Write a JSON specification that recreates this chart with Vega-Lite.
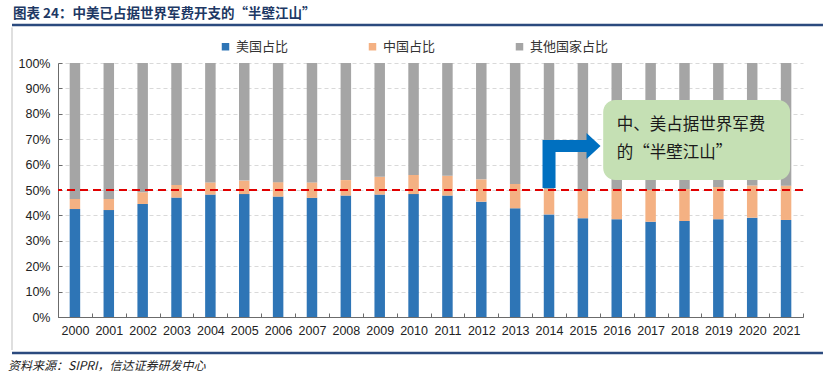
{
  "$schema": "https://vega.github.io/schema/vega-lite/v6.json",
  "width": 745,
  "height": 254,
  "autosize": {"type": "none"},
  "padding": {"left": 58, "top": 63, "right": 32, "bottom": 63},
  "background": "white",
  "config": {"view": {"stroke": null}, "font": "Noto Sans CJK SC"},
  "resolve": {"scale": {"x": "independent"}, "axis": {"y": "independent", "x": "independent"}},
  "layer": [
    {
      "data": {"values": [
        {"year": "2000", "group": "美国占比", "k": 1, "share": 0.425}, {"year": "2000", "group": "中国占比", "k": 2, "share": 0.040}, {"year": "2000", "group": "其他国家占比", "k": 3, "share": 0.535},
        {"year": "2001", "group": "美国占比", "k": 1, "share": 0.421}, {"year": "2001", "group": "中国占比", "k": 2, "share": 0.044}, {"year": "2001", "group": "其他国家占比", "k": 3, "share": 0.535},
        {"year": "2002", "group": "美国占比", "k": 1, "share": 0.445}, {"year": "2002", "group": "中国占比", "k": 2, "share": 0.046}, {"year": "2002", "group": "其他国家占比", "k": 3, "share": 0.509},
        {"year": "2003", "group": "美国占比", "k": 1, "share": 0.470}, {"year": "2003", "group": "中国占比", "k": 2, "share": 0.050}, {"year": "2003", "group": "其他国家占比", "k": 3, "share": 0.480},
        {"year": "2004", "group": "美国占比", "k": 1, "share": 0.482}, {"year": "2004", "group": "中国占比", "k": 2, "share": 0.048}, {"year": "2004", "group": "其他国家占比", "k": 3, "share": 0.470},
        {"year": "2005", "group": "美国占比", "k": 1, "share": 0.484}, {"year": "2005", "group": "中国占比", "k": 2, "share": 0.053}, {"year": "2005", "group": "其他国家占比", "k": 3, "share": 0.463},
        {"year": "2006", "group": "美国占比", "k": 1, "share": 0.474}, {"year": "2006", "group": "中国占比", "k": 2, "share": 0.057}, {"year": "2006", "group": "其他国家占比", "k": 3, "share": 0.469},
        {"year": "2007", "group": "美国占比", "k": 1, "share": 0.469}, {"year": "2007", "group": "中国占比", "k": 2, "share": 0.061}, {"year": "2007", "group": "其他国家占比", "k": 3, "share": 0.470},
        {"year": "2008", "group": "美国占比", "k": 1, "share": 0.478}, {"year": "2008", "group": "中国占比", "k": 2, "share": 0.061}, {"year": "2008", "group": "其他国家占比", "k": 3, "share": 0.461},
        {"year": "2009", "group": "美国占比", "k": 1, "share": 0.482}, {"year": "2009", "group": "中国占比", "k": 2, "share": 0.070}, {"year": "2009", "group": "其他国家占比", "k": 3, "share": 0.448},
        {"year": "2010", "group": "美国占比", "k": 1, "share": 0.484}, {"year": "2010", "group": "中国占比", "k": 2, "share": 0.075}, {"year": "2010", "group": "其他国家占比", "k": 3, "share": 0.441},
        {"year": "2011", "group": "美国占比", "k": 1, "share": 0.478}, {"year": "2011", "group": "中国占比", "k": 2, "share": 0.078}, {"year": "2011", "group": "其他国家占比", "k": 3, "share": 0.444},
        {"year": "2012", "group": "美国占比", "k": 1, "share": 0.454}, {"year": "2012", "group": "中国占比", "k": 2, "share": 0.088}, {"year": "2012", "group": "其他国家占比", "k": 3, "share": 0.458},
        {"year": "2013", "group": "美国占比", "k": 1, "share": 0.428}, {"year": "2013", "group": "中国占比", "k": 2, "share": 0.096}, {"year": "2013", "group": "其他国家占比", "k": 3, "share": 0.476},
        {"year": "2014", "group": "美国占比", "k": 1, "share": 0.404}, {"year": "2014", "group": "中国占比", "k": 2, "share": 0.099}, {"year": "2014", "group": "其他国家占比", "k": 3, "share": 0.497},
        {"year": "2015", "group": "美国占比", "k": 1, "share": 0.389}, {"year": "2015", "group": "中国占比", "k": 2, "share": 0.109}, {"year": "2015", "group": "其他国家占比", "k": 3, "share": 0.502},
        {"year": "2016", "group": "美国占比", "k": 1, "share": 0.385}, {"year": "2016", "group": "中国占比", "k": 2, "share": 0.119}, {"year": "2016", "group": "其他国家占比", "k": 3, "share": 0.496},
        {"year": "2017", "group": "美国占比", "k": 1, "share": 0.375}, {"year": "2017", "group": "中国占比", "k": 2, "share": 0.125}, {"year": "2017", "group": "其他国家占比", "k": 3, "share": 0.500},
        {"year": "2018", "group": "美国占比", "k": 1, "share": 0.378}, {"year": "2018", "group": "中国占比", "k": 2, "share": 0.126}, {"year": "2018", "group": "其他国家占比", "k": 3, "share": 0.496},
        {"year": "2019", "group": "美国占比", "k": 1, "share": 0.385}, {"year": "2019", "group": "中国占比", "k": 2, "share": 0.127}, {"year": "2019", "group": "其他国家占比", "k": 3, "share": 0.488},
        {"year": "2020", "group": "美国占比", "k": 1, "share": 0.391}, {"year": "2020", "group": "中国占比", "k": 2, "share": 0.127}, {"year": "2020", "group": "其他国家占比", "k": 3, "share": 0.482},
        {"year": "2021", "group": "美国占比", "k": 1, "share": 0.382}, {"year": "2021", "group": "中国占比", "k": 2, "share": 0.135}, {"year": "2021", "group": "其他国家占比", "k": 3, "share": 0.483}
      ]},
      "mark": {"type": "bar", "width": {"band": 0.31}},
      "encoding": {
        "x": {
          "field": "year", "type": "ordinal",
          "scale": {"paddingInner": 0, "paddingOuter": 0},
          "axis": {
            "title": null, "labelAngle": 0, "grid": false,
            "tickBand": "extent", "tickSize": -4,
            "domainColor": "#6b6b6b", "tickColor": "#6b6b6b",
            "labelFont": "Liberation Sans", "labelFontSize": 12.5, "labelColor": "#222222",
            "labelPadding": 11
          }
        },
        "y": {
          "field": "share", "type": "quantitative", "stack": "zero",
          "scale": {"domain": [0, 1], "nice": false},
          "axis": {
            "title": null, "format": ".0%",
            "values": [0, 0.1, 0.2, 0.3, 0.4, 0.5, 0.6, 0.7, 0.8, 0.9, 1],
            "labelOverlap": false, "grid": true,
            "tickSize": -4, "domainColor": "#6b6b6b", "tickColor": "#6b6b6b",
            "gridColor": "#d9d9d9", "gridDash": [4, 3],
            "labelFont": "Liberation Sans", "labelFontSize": 12.5, "labelColor": "#222222",
            "labelPadding": 12
          }
        },
        "order": {"field": "k", "type": "quantitative", "sort": "ascending"},
        "color": {
          "field": "group", "type": "nominal",
          "sort": ["美国占比", "中国占比", "其他国家占比"],
          "scale": {"domain": ["美国占比", "中国占比", "其他国家占比"], "range": ["#2e75b6", "#f4b183", "#a5a5a5"]},
          "legend": {
            "orient": "none", "legendX": 161, "legendY": -23, "direction": "horizontal",
            "title": null, "symbolType": "square", "symbolSize": 56, "symbolStrokeWidth": 0,
            "labelFontSize": 13, "labelColor": "#333333", "labelFont": "Noto Sans CJK SC",
            "columnPadding": 77, "labelOffset": 4, "padding": 0
          }
        }
      }
    },
    {
      "data": {"values": [{"label": "50%"}]},
      "layer": [
        {
          "mark": {"type": "rule", "color": "#e00000", "strokeDash": [8, 5], "strokeWidth": 1.8},
          "encoding": {"y": {"datum": 0.5, "type": "quantitative", "scale": {"domain": [0, 1], "nice": false}, "axis": null}}
        },
        {
          "mark": {"type": "rect", "fill": "#c5e0b4", "cornerRadius": 12},
          "encoding": {
            "x": {"datum": 16.1, "type": "quantitative", "scale": {"domain": [0, 22], "nice": false, "zero": false}, "axis": null},
            "x2": {"datum": 21.62},
            "y": {"datum": 0.854, "type": "quantitative", "scale": {"domain": [0, 1], "nice": false}, "axis": null},
            "y2": {"datum": 0.539}
          }
        },
        {
          "mark": {"type": "text", "text": "中、美占据世界军费", "align": "left", "baseline": "middle", "fontSize": 16.5, "color": "#1a1a1a", "font": "Noto Sans CJK SC"},
          "encoding": {
            "x": {"datum": 16.5, "type": "quantitative", "scale": {"domain": [0, 22], "nice": false, "zero": false}, "axis": null},
            "y": {"datum": 0.756, "type": "quantitative", "scale": {"domain": [0, 1], "nice": false}, "axis": null}
          }
        },
        {
          "mark": {"type": "text", "text": "的“半壁江山”", "align": "left", "baseline": "middle", "fontSize": 16.5, "color": "#1a1a1a", "font": "Noto Sans CJK SC"},
          "encoding": {
            "x": {"datum": 16.5, "type": "quantitative", "scale": {"domain": [0, 22], "nice": false, "zero": false}, "axis": null},
            "y": {"datum": 0.646, "type": "quantitative", "scale": {"domain": [0, 1], "nice": false}, "axis": null}
          }
        },
        {
          "mark": {"type": "point", "filled": true, "opacity": 1, "size": 4, "fill": "#0070c0", "strokeWidth": 0,
            "shape": "M-6.5,-2 L-6.5,-50 L37.5,-50 L37.5,-57 L51.5,-44 L37.5,-31 L37.5,-38 L6.5,-38 L6.5,-2 Z"},
          "encoding": {
            "x": {"datum": 14.5, "type": "quantitative", "scale": {"domain": [0, 22], "nice": false, "zero": false}, "axis": null},
            "y": {"datum": 0.5, "type": "quantitative", "scale": {"domain": [0, 1], "nice": false}, "axis": null}
          }
        },
        {
          "mark": {"type": "rule", "color": "#bfbfbf", "strokeWidth": 1},
          "encoding": {
            "x": {"datum": -1.358, "type": "quantitative", "scale": {"domain": [0, 22], "nice": false, "zero": false}, "axis": null},
            "y": {"datum": 1.14, "type": "quantitative", "scale": {"domain": [0, 1], "nice": false}, "axis": null},
            "y2": {"datum": -0.13}
          }
        },
        {
          "mark": {"type": "rule", "color": "#2b4a7e", "strokeWidth": 2.5},
          "encoding": {
            "x": {"datum": -1.358, "type": "quantitative", "scale": {"domain": [0, 22], "nice": false, "zero": false}, "axis": null},
            "x2": {"datum": 22.59},
            "y": {"datum": 1.1496, "type": "quantitative", "scale": {"domain": [0, 1], "nice": false}, "axis": null}
          }
        },
        {
          "mark": {"type": "rule", "color": "#2b4a7e", "strokeWidth": 2.5},
          "encoding": {
            "x": {"datum": -1.358, "type": "quantitative", "scale": {"domain": [0, 22], "nice": false, "zero": false}, "axis": null},
            "x2": {"datum": 22.59},
            "y": {"datum": -0.1417, "type": "quantitative", "scale": {"domain": [0, 1], "nice": false}, "axis": null}
          }
        },
        {
          "mark": {"type": "text", "text": "图表 24：中美已占据世界军费开支的“半壁江山”", "align": "left", "baseline": "middle", "fontSize": 13.5, "fontWeight": "bold", "color": "#203864", "font": "Noto Sans CJK SC"},
          "encoding": {
            "x": {"datum": -1.329, "type": "quantitative", "scale": {"domain": [0, 22], "nice": false, "zero": false}, "axis": null},
            "y": {"datum": 1.193, "type": "quantitative", "scale": {"domain": [0, 1], "nice": false}, "axis": null}
          }
        },
        {
          "mark": {"type": "text", "text": "资料来源：SIPRI，信达证券研发中心", "align": "left", "baseline": "middle", "fontSize": 12, "fontStyle": "italic", "color": "#222222", "font": "Noto Sans CJK SC"},
          "encoding": {
            "x": {"datum": -1.476, "type": "quantitative", "scale": {"domain": [0, 22], "nice": false, "zero": false}, "axis": null},
            "y": {"datum": -0.193, "type": "quantitative", "scale": {"domain": [0, 1], "nice": false}, "axis": null}
          }
        }
      ]
    }
  ]
}
